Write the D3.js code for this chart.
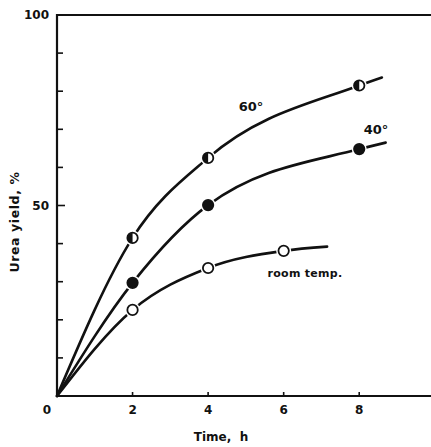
<!DOCTYPE html>
<meta charset="utf-8">
<style>
  body { margin: 0; background: #fff; }
  text { font-family: "DejaVu Sans", sans-serif; font-weight: bold; fill: #111; }
  .curve { fill: none; stroke: #111; stroke-width: 2.6; stroke-linecap: round; }
  .axis { stroke: #111; stroke-width: 2.2; fill: none; }
</style>
<body>
<script src="https://d3js.org/d3.v7.min.js"></script>
<script>
  // measured points (time, h / yield, %)
  var t60 = [2, 4, 8], y60 = [41.5, 62.5, 81.5];
  var t40 = [2, 4, 8], y40 = [29.7, 50.1, 64.8];
  var tRoom = [2, 4, 6], yRoom = [22.6, 33.6, 38.1];
  // where each drawn curve stops
  var tail60 = [8.6, 83.6], tail40 = [8.7, 66.5], tailRoom = [7.15, 39.2];
  var xTicks = [0, 2, 4, 6, 8];
  var yTicks = [10, 20, 30, 40, 50, 60, 70, 80, 90, 100];
  var yLabels = [50, 100];

  var width = 431, height = 447;

  var x = d3.scaleLinear().domain([0, 9.9]).range([57, 431]),
      y = d3.scaleLinear().domain([0, 100]).range([396, 15]);

  var svg = d3.select("body").append("svg")
    .attr("width", width)
    .attr("height", height);

  // frame: left, bottom, top
  svg.append("path").attr("class", "axis")
    .attr("d", "M" + x(9.9) + "," + y(100) + "H" + x(0) + "V" + y(0) + "H" + x(9.9));

  svg.selectAll(".ytick").data(yTicks).enter().append("line")
    .attr("class", "axis")
    .attr("x1", x(0)).attr("x2", function (d) { return x(0) + (d === 50 ? 8 : 6); })
    .attr("y1", y).attr("y2", y)
    .style("stroke-width", 1.6);

  svg.selectAll(".xtick").data(xTicks.slice(1)).enter().append("line")
    .attr("class", "axis")
    .attr("x1", x).attr("x2", x)
    .attr("y1", y(0)).attr("y2", y(0) - 4)
    .style("stroke-width", 1.6);

  svg.selectAll(".ylab").data(yLabels).enter().append("text")
    .attr("x", x(0) - 8).attr("y", y).attr("dy", "0.35em")
    .attr("text-anchor", "end")
    .style("font-size", "12px")
    .text(function (d) { return d; });

  svg.selectAll(".xlab").data(xTicks).enter().append("text")
    .attr("x", function (d) { return d === 0 ? x(d) - 10 : x(d); })
    .attr("y", y(0) + 18)
    .attr("text-anchor", "middle")
    .style("font-size", "12px")
    .text(function (d) { return d; });

  svg.append("text")
    .attr("x", 221).attr("y", 441)
    .attr("text-anchor", "middle")
    .style("font-size", "12px")
    .attr("xml:space", "preserve")
    .text("Time,  h");

  svg.append("text")
    .attr("transform", "translate(19,222) rotate(-90)")
    .attr("text-anchor", "middle")
    .style("font-size", "12.5px")
    .style("letter-spacing", "0.6px")
    .text("Urea yield, %");

  var line = d3.line()
    .x(function (d) { return x(d[0]); })
    .y(function (d) { return y(d[1]); })
    .curve(d3.curveMonotoneX);

  function series(ts, ys, tail, kind) {
    var pts = [[0, 0]].concat(ts.map(function (t, i) { return [t, ys[i]]; }), [tail]);
    svg.append("path").attr("class", "curve").attr("d", line(pts));
    var g = svg.append("g");
    var m = g.selectAll("g").data(pts.slice(1, -1)).enter().append("g")
      .attr("transform", function (d) { return "translate(" + x(d[0]) + "," + y(d[1]) + ")"; });
    m.append("circle").attr("r", 7.5).attr("fill", "#fff");
    m.append("circle").attr("r", 5.2)
      .attr("fill", kind === "filled" ? "#111" : "#fff")
      .attr("stroke", "#111").attr("stroke-width", 1.8);
    if (kind === "half") {
      m.append("path").attr("fill", "#111")
        .attr("d", d3.arc().innerRadius(0).outerRadius(5.2).startAngle(Math.PI).endAngle(2 * Math.PI)());
    }
  }

  series(t60, y60, tail60, "half");
  series(t40, y40, tail40, "filled");
  series(tRoom, yRoom, tailRoom, "open");

  svg.append("text").attr("x", 251).attr("y", 111).attr("text-anchor", "middle")
    .style("font-size", "13px").text("60°");
  svg.append("text").attr("x", 376).attr("y", 134).attr("text-anchor", "middle")
    .style("font-size", "13px").text("40°");
  svg.append("text").attr("x", 305).attr("y", 277).attr("text-anchor", "middle")
    .style("font-size", "11px").style("letter-spacing", "0.3px").text("room temp.");
</script>
